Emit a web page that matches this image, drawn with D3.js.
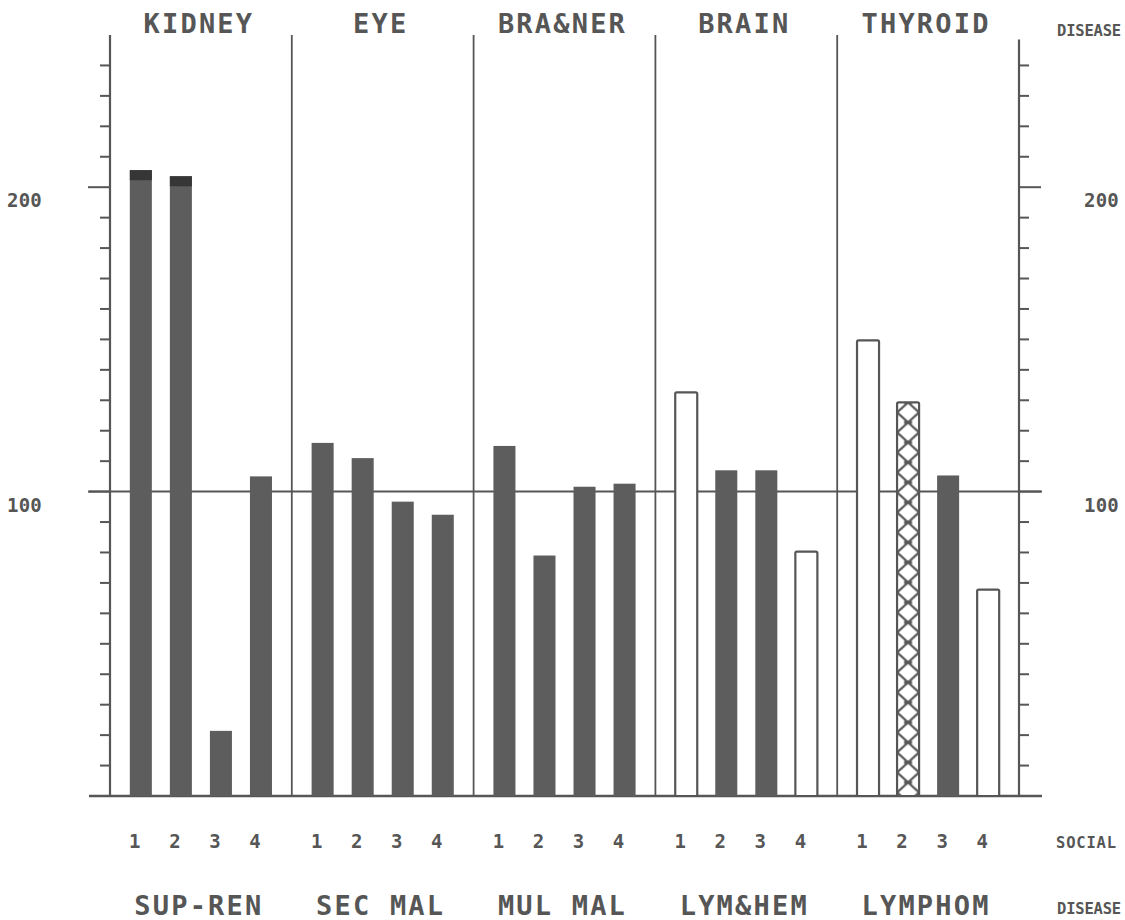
<!DOCTYPE html>
<html>
<head>
<meta charset="utf-8">
<script src="https://cdn.jsdelivr.net/npm/d3@7"></script>
<style>
    body { margin: 0; background: #fff; }
    svg { display: block; }
</style>
</head>
<body>
<div id="chart"></div>
<script>
// disease names above and below each group
const topDiseases = ['KIDNEY', 'EYE', 'BRA&NER', 'BRAIN', 'THYROID'];
const bottomDiseases = ['SUP-REN', 'SEC MAL', 'MUL MAL', 'LYM&HEM', 'LYMPHOM'];
const socialClasses = ['1', '2', '3', '4'];

// ratio per group, social class 1..4
const ratios = [
    [205.6, 203.6, 21.4, 105.0],
    [116.0, 111.0, 96.7, 92.4],
    [115.0, 79.0, 101.6, 102.6],
    [132.6, 107.0, 107.0, 80.3],
    [149.7, 129.3, 105.3, 67.8]
];

// bar shading per group, social class 1..4
const shading = [
    ['cap', 'cap', 'solid', 'solid'],
    ['solid', 'solid', 'solid', 'solid'],
    ['solid', 'solid', 'solid', 'solid'],
    ['open', 'solid', 'solid', 'open'],
    ['open', 'hatch', 'solid', 'open']
];

const yTicks = d3.range(10, 250, 10);
const yLabels = [100, 200];

const width = 1125;
const height = 920;
const ink = '#565656';
const mono = '"DejaVu Sans Mono", monospace';

const svg = d3.select('#chart')
    .append('svg')
    .attr('width', width)
    .attr('height', height);

const defs = svg.append('defs');

// scales
const x0 = d3.scaleBand()
    .domain(d3.range(topDiseases.length))
    .range([110, 1019]);

const x1 = d3.scaleBand()
    .domain(socialClasses)
    .range([0, x0.bandwidth()])
    .paddingInner(0.45)
    .paddingOuter(0.495);

const y = d3.scaleLinear()
    .domain([0, 250])
    .range([796, 35]);

const left = x0.range()[0];
const right = x0.range()[1];

// flatten to one record per bar
const bars = [];
ratios.forEach((row, g) => {
    row.forEach((v, c) => {
        bars.push({group: g, cls: socialClasses[c], value: v, shade: shading[g][c]});
    });
});

// group separators
svg.append('g')
    .selectAll('line')
    .data(d3.range(1, topDiseases.length))
    .join('line')
    .attr('x1', d => x0(d))
    .attr('x2', d => x0(d))
    .attr('y1', y(250))
    .attr('y2', y(0))
    .attr('stroke', ink)
    .attr('stroke-width', 1.8);

// reference lines at 0 and 100
svg.append('g')
    .selectAll('line')
    .data([0, 100])
    .join('line')
    .attr('x1', left - 21)
    .attr('x2', right + 23)
    .attr('y1', d => y(d))
    .attr('y2', d => y(d))
    .attr('stroke', ink)
    .attr('stroke-width', d => d === 0 ? 2.6 : 2);

// hatch patterns, one per hatched bar so the diamonds line up
bars.filter(d => d.shade === 'hatch').forEach((d, i) => {
    const bw = x1.bandwidth();
    const id = 'hatch' + i;
    d.patternId = id;
    const p = defs.append('pattern')
        .attr('id', id)
        .attr('patternUnits', 'userSpaceOnUse')
        .attr('x', x0(d.group) + x1(d.cls))
        .attr('y', y(d.value) - 10)
        .attr('width', bw)
        .attr('height', 20);
    p.append('rect')
        .attr('width', bw)
        .attr('height', 20)
        .attr('fill', '#fff');
    p.append('path')
        .attr('d', `M0,0 L${bw / 2},10 L0,20 M${bw},0 L${bw / 2},10 L${bw},20`)
        .attr('fill', 'none')
        .attr('stroke', ink)
        .attr('stroke-width', 2.2);
    p.append('line')
        .attr('x1', bw / 2 - 4)
        .attr('x2', bw / 2 + 4)
        .attr('y1', 10)
        .attr('y2', 10)
        .attr('stroke', ink)
        .attr('stroke-width', 3);
});

// bars
const barG = svg.append('g');

barG.selectAll('rect.bar')
    .data(bars)
    .join('rect')
    .attr('class', 'bar')
    .attr('x', d => x0(d.group) + x1(d.cls))
    .attr('y', d => y(d.value))
    .attr('width', x1.bandwidth())
    .attr('height', d => y(0) - y(d.value))
    .attr('rx', d => d.shade === 'open' || d.shade === 'hatch' ? 1.5 : 0)
    .attr('fill', d => {
        if (d.shade === 'open') return '#fff';
        if (d.shade === 'hatch') return `url(#${d.patternId})`;
        return '#5d5d5d';
    })
    .attr('stroke', d => d.shade === 'solid' || d.shade === 'cap' ? 'none' : ink)
    .attr('stroke-width', 2.2);

// darker caps on the top of the tallest bars
barG.selectAll('rect.cap')
    .data(bars.filter(d => d.shade === 'cap'))
    .join('rect')
    .attr('class', 'cap')
    .attr('x', d => x0(d.group) + x1(d.cls))
    .attr('y', d => y(d.value))
    .attr('width', x1.bandwidth())
    .attr('height', d => y(d.value - 3.3) - y(d.value))
    .attr('fill', '#363636');

// left and right axes
const axes = [
    {x: left, dir: -1, top: 250},
    {x: right, dir: 1, top: 248.5}
];

axes.forEach(a => {
    const g = svg.append('g');
    g.append('line')
        .attr('x1', a.x)
        .attr('x2', a.x)
        .attr('y1', y(a.top))
        .attr('y2', y(0))
        .attr('stroke', ink)
        .attr('stroke-width', 2.2);
    g.selectAll('line.tick')
        .data(yTicks)
        .join('line')
        .attr('class', 'tick')
        .attr('x1', a.x)
        .attr('x2', d => a.x + a.dir * (yLabels.includes(d) ? 22 : 10))
        .attr('y1', d => y(d))
        .attr('y2', d => y(d))
        .attr('stroke', ink)
        .attr('stroke-width', 2);
    g.selectAll('text')
        .data(yLabels)
        .join('text')
        .attr('x', a.dir < 0 ? 7 : 1084)
        .attr('y', d => y(d) + 20)
        .attr('font-family', mono)
        .attr('font-weight', 'bold')
        .attr('font-size', 19)
        .attr('letter-spacing', 0.2)
        .attr('fill', ink)
        .text(d => d);
});

// disease labels top and bottom
const bigText = (sel) => sel
    .attr('font-family', mono)
    .attr('font-size', 27)
    .attr('font-weight', 'bold')
    .attr('letter-spacing', 2.2)
    .attr('text-anchor', 'middle')
    .attr('fill', ink);

svg.append('g')
    .selectAll('text')
    .data(topDiseases)
    .join('text')
    .attr('x', (d, i) => x0(i) + x0.bandwidth() / 2 - 2)
    .attr('y', 33)
    .call(bigText)
    .text(d => d);

svg.append('g')
    .selectAll('text')
    .data(bottomDiseases)
    .join('text')
    .attr('x', (d, i) => x0(i) + x0.bandwidth() / 2 - 2)
    .attr('y', 915)
    .call(bigText)
    .text(d => d);

// social class numbers
svg.append('g')
    .selectAll('text')
    .data(bars)
    .join('text')
    .attr('x', d => x0(d.group) + x1(d.cls) + x1.bandwidth() / 2 - 6)
    .attr('y', 848)
    .attr('font-family', mono)
    .attr('font-weight', 'bold')
    .attr('font-size', 19)
    .attr('text-anchor', 'middle')
    .attr('fill', ink)
    .text(d => d.cls);

// side captions at the right edge
const captions = [
    {text: 'DISEASE', x: 1057, y: 36},
    {text: 'SOCIAL', x: 1056, y: 848},
    {text: 'DISEASE', x: 1057, y: 914}
];

svg.append('g')
    .selectAll('text')
    .data(captions)
    .join('text')
    .attr('x', d => d.x)
    .attr('y', d => d.y)
    .attr('font-family', mono)
    .attr('font-weight', 'bold')
    .attr('font-size', 15.5)
    .attr('letter-spacing', d => d.text.length > 6 ? -0.2 : 0.8)
    .attr('fill', ink)
    .text(d => d.text);
</script>
</body>
</html>
